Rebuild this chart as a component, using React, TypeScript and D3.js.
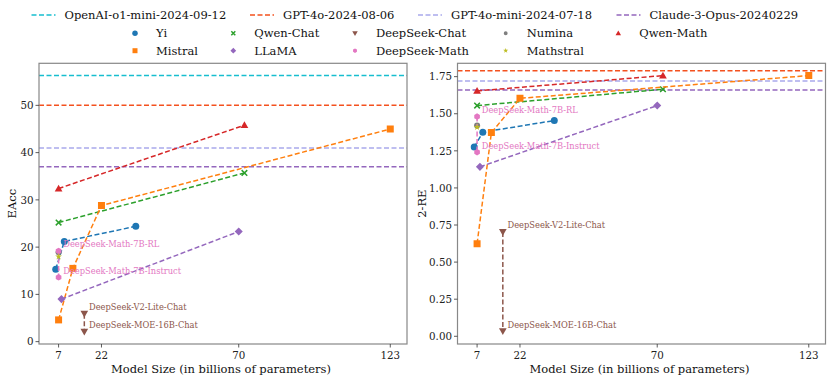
import React from "react";
import * as d3 from "d3";

// ---- data ----
const refNames = ["OpenAI-o1-mini-2024-09-12", "GPT-4o-2024-08-06", "GPT-4o-mini-2024-07-18", "Claude-3-Opus-20240229"];
const refColors = ["#17becf", "#f4511e", "#a9a9ec", "#9467bd"];
const refEAcc = [56.3, 50.0, 41.0, 37.0];
const refRE: (number | null)[] = [null, 1.79, 1.72, 1.66];

const yiX = [6, 9, 34];
const yiEAcc = [15.3, 21.2, 24.4];
const yiRE = [1.275, 1.376, 1.454];
const mistralX = [7, 12, 22, 123];
const mistralEAcc = [4.6, 15.5, 28.8, 45.0];
const mistralRE = [0.624, 1.373, 1.604, 1.757];
const qwenChatX = [7, 72];
const qwenChatEAcc = [25.2, 35.7];
const qwenChatRE = [1.555, 1.665];
const llamaX = [8, 70];
const llamaEAcc = [9.0, 23.3];
const llamaRE = [1.142, 1.555];
const dsChatX = [16, 16];
const dsChatEAcc = [5.9, 2.1];
const dsChatRE = [0.703, 0.034];
const dsChatLabels = ["DeepSeek-V2-Lite-Chat", "DeepSeek-MOE-16B-Chat"];
const dsMathX = [7, 7];
const dsMathEAcc = [19.2, 13.6];
const dsMathRE = [1.481, 1.241];
const dsMathLabels = ["DeepSeek-Math-7B-RL", "DeepSeek-Math-7B-Instruct"];
const numinaX = [7];
const numinaEAcc = [18.9];
const numinaRE = [1.42];
const mathstralX = [7];
const mathstralEAcc = [18.0];
const mathstralRE = [1.41];
const qwenMathX = [7, 72];
const qwenMathEAcc = [32.4, 45.8];
const qwenMathRE = [1.654, 1.757];

const xTicks = [7, 22, 70, 123];
const eaccTicks = [0, 10, 20, 30, 40, 50];
const reTicks = [0, 0.25, 0.5, 0.75, 1.0, 1.25, 1.5, 1.75];

type Series = {
  name: string; color: string; marker: string; x: number[]; eacc: number[]; re: number[]; labels?: string[];
};
const series: Series[] = [
  { name: "Yi", color: "#1f77b4", marker: "circle", x: yiX, eacc: yiEAcc, re: yiRE },
  { name: "Qwen-Chat", color: "#2ca02c", marker: "x", x: qwenChatX, eacc: qwenChatEAcc, re: qwenChatRE },
  { name: "DeepSeek-Chat", color: "#8c564b", marker: "tridown", x: dsChatX, eacc: dsChatEAcc, re: dsChatRE, labels: dsChatLabels },
  { name: "Numina", color: "#7f7f7f", marker: "smallcircle", x: numinaX, eacc: numinaEAcc, re: numinaRE },
  { name: "Qwen-Math", color: "#d62728", marker: "triup", x: qwenMathX, eacc: qwenMathEAcc, re: qwenMathRE },
  { name: "Mistral", color: "#ff7f0e", marker: "square", x: mistralX, eacc: mistralEAcc, re: mistralRE },
  { name: "LLaMA", color: "#9467bd", marker: "diamond", x: llamaX, eacc: llamaEAcc, re: llamaRE },
  { name: "DeepSeek-Math", color: "#e377c2", marker: "hexagon", x: dsMathX, eacc: dsMathEAcc, re: dsMathRE, labels: dsMathLabels },
  { name: "Mathstral", color: "#bcbd22", marker: "star", x: mathstralX, eacc: mathstralEAcc, re: mathstralRE },
];
const legendOrder = ["Yi", "Mistral", "Qwen-Chat", "LLaMA", "DeepSeek-Chat", "DeepSeek-Math", "Numina", "Mathstral", "Qwen-Math"];

const FONT = "'DejaVu Serif', 'Liberation Serif', 'Times New Roman', serif";

function markerPath(m: string, s: number): string {
  const r = s / 2;
  switch (m) {
    case "circle": return d3.symbol(d3.symbolCircle, Math.PI * r * r)()!;
    case "smallcircle": return d3.symbol(d3.symbolCircle, Math.PI * r * r * 0.75)()!;
    case "square": return `M${-r},${-r}H${r}V${r}H${-r}Z`;
    case "diamond": { const q = r * 1.15; return `M0,${-q}L${q},0L0,${q}L${-q},0Z`; }
    case "triup": { const q = r * 1.1; return `M0,${-q}L${q},${q * 0.75}L${-q},${q * 0.75}Z`; }
    case "tridown": { const q = r * 1.1; return `M0,${q}L${q},${-q * 0.75}L${-q},${-q * 0.75}Z`; }
    case "hexagon": {
      const pts = d3.range(6).map(i => { const a = Math.PI / 2 + i * Math.PI / 3; return [r * Math.cos(a), r * Math.sin(a)]; });
      return "M" + pts.map(p => p.join(",")).join("L") + "Z";
    }
    case "star": return d3.symbol(d3.symbolStar, r * r * 1.6)()!;
    case "x": { const q = r * 0.8; return `M${-q},${-q}L${q},${q}M${-q},${q}L${q},${-q}`; }
  }
  return "";
}

function Marker({ m, color, x, y, s }: { m: string; color: string; x: number; y: number; s: number }) {
  const d = markerPath(m, s);
  if (m === "x") return <path d={d} transform={`translate(${x},${y})`} stroke={color} strokeWidth={1.5} fill="none" />;
  return <path d={d} transform={`translate(${x},${y})`} fill={color} />;
}

const TOP = 63.3, BOTTOM = 344;

function Panel({ left, right, yDomain, ticks, fmt, metric, refs, ylabel }: {
  left: number; right: number; yDomain: [number, number]; ticks: number[]; fmt: (v: number) => string;
  metric: "eacc" | "re"; refs: (number | null)[]; ylabel: string;
}) {
  const x = d3.scaleLinear().domain([0.15, 128.85]).range([left, right]);
  const y = d3.scaleLinear().domain(yDomain).range([BOTTOM, TOP]);
  const line = d3.line<[number, number]>().x(d => x(d[0])).y(d => y(d[1]));
  const clipId = "clip" + metric;
  return (
    <g>
      <defs>
        <clipPath id={clipId}><rect x={left} y={TOP} width={right - left} height={BOTTOM - TOP} /></clipPath>
      </defs>
      <g clipPath={`url(#${clipId})`}>
        {refs.map((v, i) => v == null ? null : (
          <line key={i} x1={left} x2={right} y1={y(v)} y2={y(v)} stroke={refColors[i]} strokeWidth={1.5} strokeDasharray="5,2.5" />
        ))}
        {series.map(s => {
          const vals = metric === "eacc" ? s.eacc : s.re;
          const pts = s.x.map((xv, i) => [xv, vals[i]] as [number, number]);
          return (
            <g key={s.name}>
              {pts.length > 1 && <path d={line(pts)!} fill="none" stroke={s.color} strokeWidth={1.5} strokeDasharray="5,2.5" />}
              {pts.map((p, i) => <Marker key={i} m={s.marker} color={s.color} x={x(p[0])} y={y(p[1])} s={s.marker === "x" ? 7 : s.marker === "star" ? 6 : s.marker === "hexagon" ? 6.5 : 7} />)}
              {s.labels && pts.map((p, i) => (
                <text key={"l" + i} x={x(p[0]) + 4.7} y={y(p[1]) - 3.6} fill={s.color} fontSize={8.3} fontFamily={FONT}>{s.labels![i]}</text>
              ))}
            </g>
          );
        })}
      </g>
      <rect x={left} y={TOP} width={right - left} height={BOTTOM - TOP} fill="none" stroke="#888" strokeWidth={1.2} />
      {xTicks.map(t => (
        <g key={t}>
          <line x1={x(t)} x2={x(t)} y1={BOTTOM} y2={BOTTOM + 3.5} stroke="#333" strokeWidth={0.8} />
          <text x={x(t)} y={BOTTOM + 14.8} textAnchor="middle" fontSize={10.3} fontFamily={FONT} fill="#222">{t}</text>
        </g>
      ))}
      {ticks.map(t => (
        <g key={t}>
          <line x1={left - 3.5} x2={left} y1={y(t)} y2={y(t)} stroke="#333" strokeWidth={0.8} />
          <text x={left - 5.5} y={y(t) + 3.7} textAnchor="end" fontSize={10.3} fontFamily={FONT} fill="#222">{fmt(t)}</text>
        </g>
      ))}
      <text x={(left + right) / 2 - 2} y={372.5} textAnchor="middle" fontSize={11.5} fontFamily={FONT} fill="#111">Model Size (in billions of parameters)</text>
      <text transform={`translate(${metric === "eacc" ? 15.8 : 425.8},${(TOP + BOTTOM) / 2}) rotate(-90)`} textAnchor="middle" fontSize={11.5} fontFamily={FONT} fill="#111">{ylabel}</text>
    </g>
  );
}

function Legend() {
  const refX = [31.5, 250, 418, 616.5];
  const colX = [135, 233.3, 355, 505.7, 618.3];
  const rowY = [33.3, 50.7];
  return (
    <g>
      {refNames.map((n, i) => (
        <g key={n}>
          <line x1={refX[i]} x2={refX[i] + 24} y1={15} y2={15} stroke={refColors[i]} strokeWidth={1.5} strokeDasharray="5,2.5" />
          <text x={refX[i] + 33} y={19} fontSize={11.5} fontFamily={FONT} fill="#111">{n}</text>
        </g>
      ))}
      {legendOrder.map((n, k) => {
        const s = series.find(q => q.name === n)!;
        const c = Math.floor(k / 2), r = k % 2;
        const sz = s.marker === "circle" ? 5.5 : s.marker === "smallcircle" ? 4.5 : s.marker === "hexagon" ? 4.5 : s.marker === "star" ? 4.5 : 5;
        return (
          <g key={n}>
            <Marker m={s.marker} color={s.color} x={colX[c]} y={rowY[r]} s={sz} />
            <text x={colX[c] + 21} y={rowY[r] + 4} fontSize={11.5} fontFamily={FONT} fill="#111">{n}</text>
          </g>
        );
      })}
    </g>
  );
}

export default function App() {
  return (
    <svg width={831} height={381} style={{ position: "absolute", left: 0, top: 0, background: "#fff" }}>
      <Legend />
      <Panel left={39} right={407} yDomain={[-0.5, 58.9]} ticks={eaccTicks} fmt={d => String(d)} metric="eacc" refs={refEAcc} ylabel="EAcc" />
      <Panel left={457.5} right={825.5} yDomain={[-0.052, 1.84]} ticks={reTicks} fmt={d3.format(".2f")} metric="re" refs={refRE} ylabel="2-RE" />
    </svg>
  );
}
